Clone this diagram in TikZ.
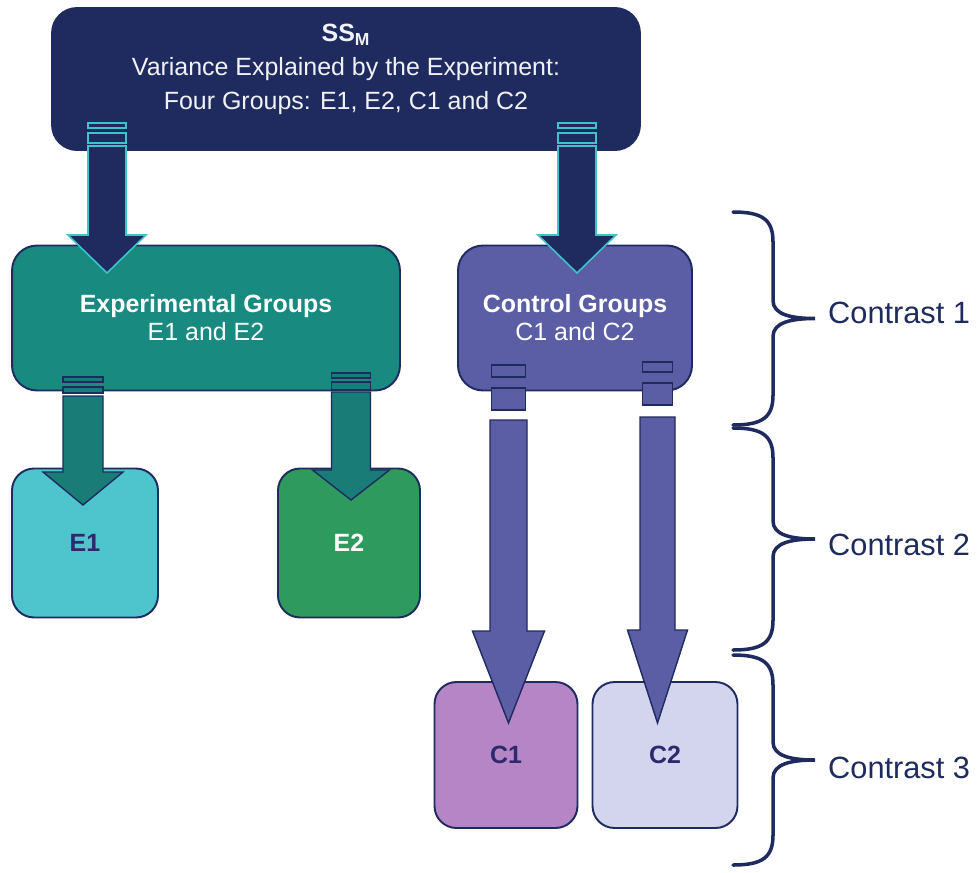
\documentclass[tikz,border=0pt]{standalone}
\usepackage{fontspec}
\setmainfont{Liberation Sans}
\usetikzlibrary{calc}

\definecolor{navy}{HTML}{1F2B5F}
\definecolor{cyanline}{HTML}{3EC3CB}
\definecolor{teal}{HTML}{188A7F}
\definecolor{tealarrow}{HTML}{197C77}
\definecolor{eone}{HTML}{4EC4CC}
\definecolor{etwo}{HTML}{2F9A5D}
\definecolor{ctrl}{HTML}{5B5DA5}
\definecolor{cone}{HTML}{B685C6}
\definecolor{ctwo}{HTML}{D3D5EE}
\definecolor{ink}{HTML}{2C2A6C}

\begin{document}
\begin{tikzpicture}[x=0.02cm,y=-0.02cm,
  box/.style={draw=navy,line width=1.1pt,rounded corners=0.5cm,inner sep=0pt,align=center,
    font=\fontsize{14.2}{16}\selectfont},
  small/.style={box,rounded corners=0.44cm,font=\bfseries\fontsize{14.2}{16}\selectfont},
  toparrow/.style={fill=navy,draw=cyanline,line width=0.9pt},
  exparrow/.style={fill=tealarrow,draw=navy,line width=0.8pt},
  ctrlarrow/.style={fill=ctrl,draw=navy,line width=0.8pt},
  bracket/.style={draw=navy,line width=2pt,line cap=round},
  contrast/.style={anchor=west,text=navy,font=\fontsize{17.5}{20}\selectfont}]
  \useasboundingbox (0,0) rectangle (979,872);
  % --- boxes ---
  \node[box,fill=navy,minimum width=11.76cm,minimum height=2.84cm] (top) at (346,79) {};
  \node[text=white!94!navy,align=center,font=\fontsize{14.2}{19.3}\selectfont] (toptext) at (346,69)
    {\textbf{SS\textsubscript{M}}\\Variance Explained by the Experiment:\\Four Groups: E1, E2, C1 and C2};
  \node[box,fill=teal,text=white,minimum width=7.76cm,minimum height=2.9cm] (exp) at (206,318)
    {\textbf{Experimental Groups}\\E1 and E2};
  \node[box,fill=ctrl,text=white,minimum width=4.68cm,minimum height=2.9cm] (ctrlbox) at (575,318)
    {\textbf{Control Groups}\\C1 and C2};
  \node[small,fill=eone,text=ink,minimum width=2.92cm,minimum height=2.98cm] (E1) at (85,543) {E1};
  \node[small,fill=etwo,text=white,minimum width=2.84cm,minimum height=2.98cm] (E2) at (349,543) {E2};
  \node[small,fill=cone,text=ink,minimum width=2.86cm,minimum height=2.92cm] (C1) at (506,755) {C1};
  \node[small,fill=ctwo,text=ink,minimum width=2.9cm,minimum height=2.92cm] (C2) at (665,755) {C2};
  % --- arrow ends ---
  \coordinate (s1) at (107,150);    \coordinate (t1) at (107,273);
  \coordinate (s2) at (577,150);    \coordinate (t2) at (577,273);
  \coordinate (s3) at (83,396);     \coordinate (t3) at (83,505);
  \coordinate (s4) at (351,392);    \coordinate (t4) at (351,500);
  \coordinate (s5) at (508.5,420);  \coordinate (t5) at (508.5,723);
  \coordinate (s6) at (657.5,417);  \coordinate (t6) at (657.5,723);
  % block arrows: start/tip/shaft/head/head length/style
  \foreach \s/\t/\w/\h/\l/\st/\dy in {s1/t1/19/39/38/toparrow/-4,s2/t2/19/39/38/toparrow/-4,
      s3/t3/20/40/33/exparrow/0,s4/t4/19.5/38.5/30/exparrow/0,
      s5/t5/18.5/36/92/ctrlarrow/0,s6/t6/17.5/30/93/ctrlarrow/0}
    \draw[\st] ($(\s)+(-\w,\dy)$) -- ($(\t)+(-\w,-\l)$) -- ($(\t)+(-\h,-\l)$) -- (\t)
      -- ($(\t)+(\h,-\l)$) -- ($(\t)+(\w,-\l)$) -- ($(\s)+(\w,\dy)$) -- cycle;
  % stubs
  \foreach \s/\w/\a/\b/\c/\d/\st in {s1/19/-27/-22/-17/-7/toparrow,s2/19/-27/-22/-17/-7/toparrow,
      s3/20/-19/-14/-9/-3/exparrow,s4/19.5/-19/-14/-10/-2/exparrow,
      s5/17/-55/-43/-32/-10/ctrlarrow,s6/15/-55/-45/-34/-12/ctrlarrow}
    {\draw[\st] ($(\s)+(-\w,\a)$) rectangle ($(\s)+(\w,\b)$);
     \draw[\st] ($(\s)+(-\w,\c)$) rectangle ($(\s)+(\w,\d)$);}
  % --- contrasts ---
  \coordinate (b1a) at (733,212); \coordinate (b1b) at (733,425);
  \coordinate (b2a) at (733,428); \coordinate (b2b) at (733,650);
  \coordinate (b3a) at (733,655); \coordinate (b3b) at (733,865);
  \foreach \a/\b in {b1a/b1b,b2a/b2b,b3a/b3b}
    \draw[bracket] (\a) .. controls ($(\a)+(30,0)$) and ($(\a)+(40,8)$) .. ($(\a)+(40,30)$)
      -- ($($(\a)!0.5!(\b)$)+(40,-18)$)
      .. controls ($($(\a)!0.5!(\b)$)+(40,-4)$) and ($($(\a)!0.5!(\b)$)+(58,0)$) .. ($($(\a)!0.5!(\b)$)+(82,0)$)
      .. controls ($($(\a)!0.5!(\b)$)+(58,0)$) and ($($(\a)!0.5!(\b)$)+(40,4)$) .. ($($(\a)!0.5!(\b)$)+(40,18)$)
      -- ($(\b)+(40,-30)$) .. controls ($(\b)+(40,-8)$) and ($(\b)+(30,0)$) .. (\b);
  \node[contrast] (con1) at (822,313) {Contrast 1};
  \node[contrast] (con2) at (822,545) {Contrast 2};
  \node[contrast] (con3) at (822,768) {Contrast 3};
\end{tikzpicture}
\end{document}
